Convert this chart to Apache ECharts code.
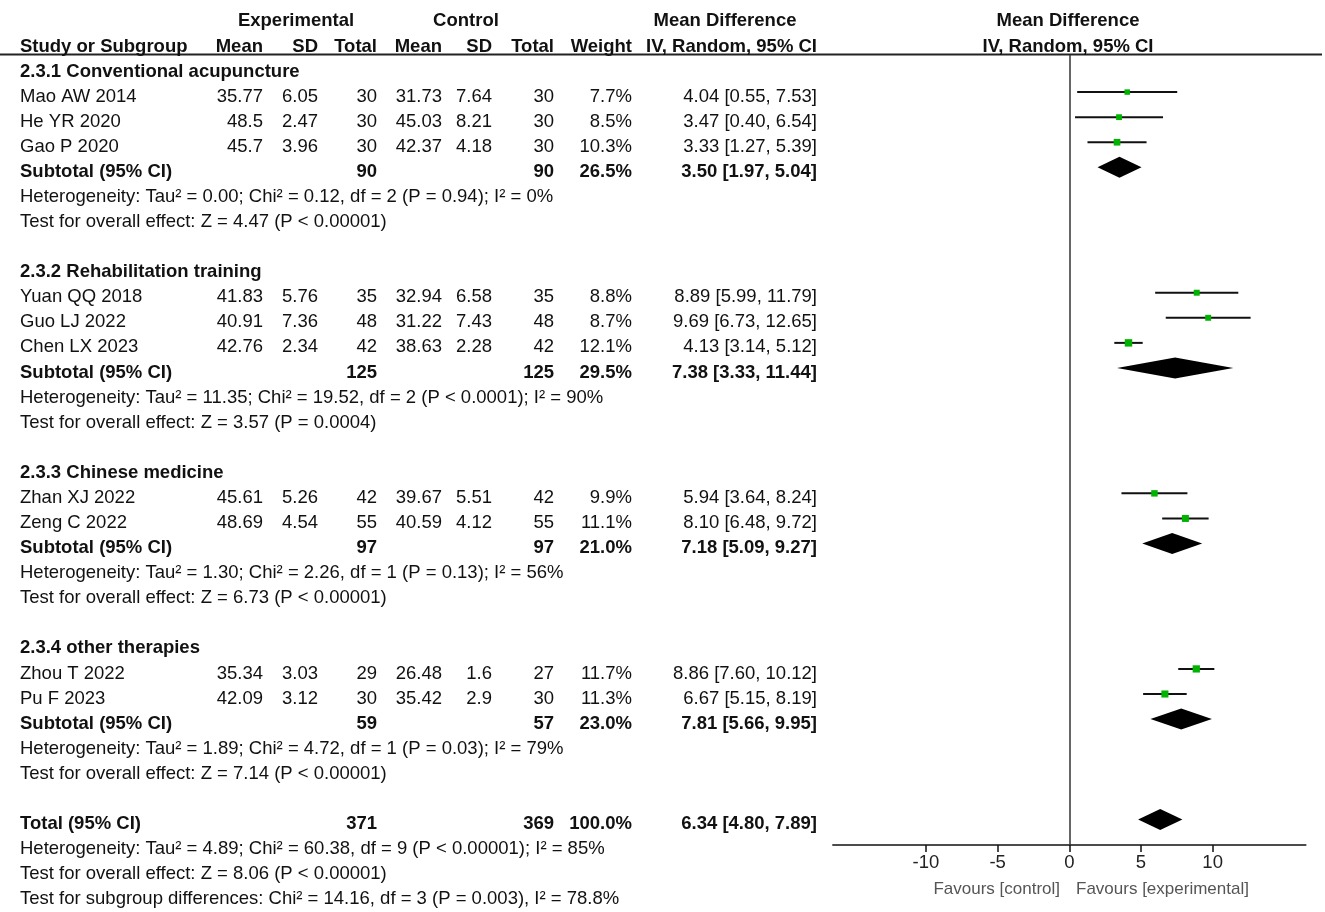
<!DOCTYPE html>
<html><head><meta charset="utf-8">
<script src="https://cdn.jsdelivr.net/npm/echarts@6/dist/echarts.min.js"></script>
<style>html,body{margin:0;padding:0;background:#fff}#c{width:1325px;height:912px}</style>
</head><body><div id="c"></div>
<script>
// ---------- data ----------
const subgroups = ["2.3.1 Conventional acupuncture", "2.3.2 Rehabilitation training", "2.3.3 Chinese medicine", "2.3.4 other therapies"];
const studies = ["Mao AW 2014", "He YR 2020", "Gao P 2020", "Yuan QQ 2018", "Guo LJ 2022", "Chen LX 2023", "Zhan XJ 2022", "Zeng C 2022", "Zhou T 2022", "Pu F 2023"];
const studyGroup = [0, 0, 0, 1, 1, 1, 2, 2, 3, 3];
const expMean = ["35.77", "48.5", "45.7", "41.83", "40.91", "42.76", "45.61", "48.69", "35.34", "42.09"];
const expSD = ["6.05", "2.47", "3.96", "5.76", "7.36", "2.34", "5.26", "4.54", "3.03", "3.12"];
const expN = [30, 30, 30, 35, 48, 42, 42, 55, 29, 30];
const ctlMean = ["31.73", "45.03", "42.37", "32.94", "31.22", "38.63", "39.67", "40.59", "26.48", "35.42"];
const ctlSD = ["7.64", "8.21", "4.18", "6.58", "7.43", "2.28", "5.51", "4.12", "1.6", "2.9"];
const ctlN = [30, 30, 30, 35, 48, 42, 42, 55, 27, 30];
const weight = [7.7, 8.5, 10.3, 8.8, 8.7, 12.1, 9.9, 11.1, 11.7, 11.3];
const md = [4.04, 3.47, 3.33, 8.89, 9.69, 4.13, 5.94, 8.10, 8.86, 6.67];
const lo = [0.55, 0.40, 1.27, 5.99, 6.73, 3.14, 3.64, 6.48, 7.60, 5.15];
const hi = [7.53, 6.54, 5.39, 11.79, 12.65, 5.12, 8.24, 9.72, 10.12, 8.19];

const subExpN = [90, 125, 97, 59];
const subCtlN = [90, 125, 97, 57];
const subWeight = [26.5, 29.5, 21.0, 23.0];
const subMd = [3.50, 7.38, 7.18, 7.81];
const subLo = [1.97, 3.33, 5.09, 5.66];
const subHi = [5.04, 11.44, 9.27, 9.95];
const subHet = [
  "Heterogeneity: Tau² = 0.00; Chi² = 0.12, df = 2 (P = 0.94); I² = 0%",
  "Heterogeneity: Tau² = 11.35; Chi² = 19.52, df = 2 (P < 0.0001); I² = 90%",
  "Heterogeneity: Tau² = 1.30; Chi² = 2.26, df = 1 (P = 0.13); I² = 56%",
  "Heterogeneity: Tau² = 1.89; Chi² = 4.72, df = 1 (P = 0.03); I² = 79%"
];
const subTest = [
  "Test for overall effect: Z = 4.47 (P < 0.00001)",
  "Test for overall effect: Z = 3.57 (P = 0.0004)",
  "Test for overall effect: Z = 6.73 (P < 0.00001)",
  "Test for overall effect: Z = 7.14 (P < 0.00001)"
];
const totalExpN = 371, totalCtlN = 369, totalWeight = 100.0;
const totalMd = 6.34, totalLo = 4.80, totalHi = 7.89;
const totalNotes = [
  "Heterogeneity: Tau² = 4.89; Chi² = 60.38, df = 9 (P < 0.00001); I² = 85%",
  "Test for overall effect: Z = 8.06 (P < 0.00001)",
  "Test for subgroup differences: Chi² = 14.16, df = 3 (P = 0.003), I² = 78.8%"
];
const xTicks = [-10, -5, 0, 5, 10];
const favours = ["Favours [control]", "Favours [experimental]"];

// ---------- layout ----------
const colX = [20, 263, 318, 377, 442, 492, 554, 632, 817];
const FONT = '"Liberation Sans", Arial, sans-serif';
const FS = '18.5px ';
const ROWH = 25.08, ROW0 = 71.5, MARK_OFF = 4.5;

const fmtCI = (m, l, h) => m.toFixed(2) + " [" + l.toFixed(2) + ", " + h.toFixed(2) + "]";
const texts = [];
function T(row, x, text, bold, align) { texts.push({ row, x, text, bold: !!bold, align: align || 'right' }); }

// headers
T(-2, 296, "Experimental", true, 'center');
T(-2, 466, "Control", true, 'center');
T(-2, 725, "Mean Difference", true, 'center');
T(-2, 1068, "Mean Difference", true, 'center');
T(-1, colX[0], "Study or Subgroup", true, 'left');
["Mean", "SD", "Total", "Mean", "SD", "Total", "Weight", "IV, Random, 95% CI"].forEach((h, k) => T(-1, colX[k + 1], h, true));
T(-1, 1068, "IV, Random, 95% CI", true, 'center');

const studyPts = [], diamonds = [];
let r = 0;
for (let g = 0; g < subgroups.length; g++) {
  T(r, colX[0], subgroups[g], true, 'left'); r++;
  for (let i = 0; i < studies.length; i++) {
    if (studyGroup[i] !== g) continue;
    T(r, colX[0], studies[i], false, 'left');
    T(r, colX[1], expMean[i]); T(r, colX[2], expSD[i]); T(r, colX[3], String(expN[i]));
    T(r, colX[4], ctlMean[i]); T(r, colX[5], ctlSD[i]); T(r, colX[6], String(ctlN[i]));
    T(r, colX[7], weight[i].toFixed(1) + "%");
    T(r, colX[8], fmtCI(md[i], lo[i], hi[i]));
    studyPts.push([md[i], r, lo[i], hi[i], weight[i]]);
    r++;
  }
  T(r, colX[0], "Subtotal (95% CI)", true, 'left');
  T(r, colX[3], String(subExpN[g]), true); T(r, colX[6], String(subCtlN[g]), true);
  T(r, colX[7], subWeight[g].toFixed(1) + "%", true);
  T(r, colX[8], fmtCI(subMd[g], subLo[g], subHi[g]), true);
  diamonds.push([subMd[g], r, subLo[g], subHi[g]]);
  r++;
  T(r, colX[0], subHet[g], false, 'left'); r++;
  T(r, colX[0], subTest[g], false, 'left'); r++;
  r++;
}
T(r, colX[0], "Total (95% CI)", true, 'left');
T(r, colX[3], String(totalExpN), true); T(r, colX[6], String(totalCtlN), true);
T(r, colX[7], totalWeight.toFixed(1) + "%", true);
T(r, colX[8], fmtCI(totalMd, totalLo, totalHi), true);
diamonds.push([totalMd, r, totalLo, totalHi]);
r++;
totalNotes.forEach(n => { T(r, colX[0], n, false, 'left'); r++; });

// ---------- chart ----------
const chart = echarts.init(document.getElementById('c'), null, { renderer: 'canvas' });
const plotTop = 55, plotBottomPx = 845;
const option = {
  animation: false,
  backgroundColor: '#fff',
  grid: [
    { left: 832.8, right: 19.2, top: plotTop, bottom: 912 - plotBottomPx },
    { left: 0, right: 0, top: 0, bottom: 0 }
  ],
  xAxis: [
    {
      type: 'value', gridIndex: 0, min: -16.5, max: 16.5,
      axisLine: { show: true, onZero: false, lineStyle: { color: '#111', width: 1.5 } },
      axisTick: { show: true, customValues: xTicks, length: 7, lineStyle: { color: '#111', width: 1.5 } },
      axisLabel: { show: true, customValues: xTicks, color: '#222', fontSize: 18.5, fontFamily: FONT, margin: 8 },
      splitLine: { show: false }
    },
    { type: 'value', gridIndex: 1, min: 0, max: 1325, show: false }
  ],
  yAxis: [
    { type: 'value', gridIndex: 0, inverse: true, show: false,
      min: (plotTop - (ROW0 - MARK_OFF)) / ROWH, max: (plotBottomPx - (ROW0 - MARK_OFF)) / ROWH },
    { type: 'value', gridIndex: 1, inverse: true, show: false,
      min: -ROW0 / ROWH, max: (912 - ROW0) / ROWH }
  ],
  graphic: [
    { type: 'line', shape: { x1: 0, y1: 54.5, x2: 1322, y2: 54.5 }, style: { stroke: '#222', lineWidth: 2 } },
    { type: 'text', x: 1060, y: 889, style: { text: favours[0], align: 'right', verticalAlign: 'middle', fill: '#555', font: '17px ' + FONT } },
    { type: 'text', x: 1076, y: 889, style: { text: favours[1], align: 'left', verticalAlign: 'middle', fill: '#555', font: '17px ' + FONT } }
  ],
  series: [
    {
      type: 'custom', xAxisIndex: 1, yAxisIndex: 1, silent: true,
      data: texts.map(t => [t.x, t.row]),
      renderItem: function (params, api) {
        const t = texts[params.dataIndex];
        const p = api.coord([t.x, t.row]);
        return { type: 'text', x: p[0], y: p[1],
          style: { text: t.text, fill: '#111', align: t.align, verticalAlign: 'middle',
                   font: (t.bold ? 'bold ' : '') + FS + FONT } };
      }
    },
    {
      type: 'custom', xAxisIndex: 0, yAxisIndex: 0, silent: true,
      data: studyPts,
      renderItem: function (params, api) {
        const pm = api.coord([api.value(0), api.value(1)]);
        const pl = api.coord([api.value(2), api.value(1)]);
        const ph = api.coord([api.value(3), api.value(1)]);
        const s = 2 + api.value(4) * 0.45;
        return { type: 'group', children: [
          { type: 'line', shape: { x1: pl[0], y1: pl[1], x2: ph[0], y2: ph[1] }, style: { stroke: '#111', lineWidth: 2 } },
          { type: 'rect', shape: { x: pm[0] - s / 2, y: pm[1] - s / 2, width: s, height: s }, style: { fill: '#00b300' } }
        ] };
      }
    },
    {
      type: 'custom', xAxisIndex: 0, yAxisIndex: 0, silent: true,
      data: diamonds,
      renderItem: function (params, api) {
        const pm = api.coord([api.value(0), api.value(1)]);
        const pl = api.coord([api.value(2), api.value(1)]);
        const ph = api.coord([api.value(3), api.value(1)]);
        const h = 10.5;
        return { type: 'polygon', shape: { points: [[pl[0], pl[1]], [pm[0], pm[1] - h], [ph[0], ph[1]], [pm[0], pm[1] + h]] },
          style: { fill: '#000' } };
      },
      markLine: {
        silent: true, symbol: 'none', label: { show: false },
        lineStyle: { color: '#333', width: 1.5, type: 'solid' },
        data: [{ xAxis: 0 }]
      }
    }
  ]
};
chart.setOption(option);
</script>
</body></html>
